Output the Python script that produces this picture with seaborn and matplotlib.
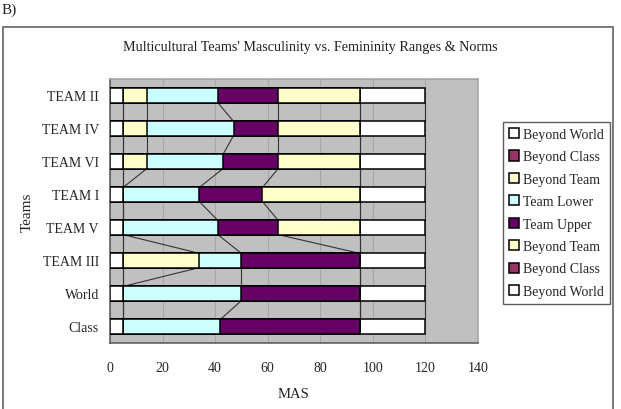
import numpy as np
import pandas as pd
import matplotlib
matplotlib.use("Agg")
import matplotlib.pyplot as plt
from matplotlib.patches import Rectangle
import seaborn as sns

# data, top bar first
teams = ["TEAM II", "TEAM IV", "TEAM VI", "TEAM I", "TEAM V", "TEAM III", "World", "Class"]
beyond_world_lo = [5, 5, 5, 5, 5, 5, 5, 5]
beyond_class_lo = [0, 0, 0, 0, 0, 0, 0, 0]
beyond_team_lo = [9, 9, 9, 0, 0, 29, 0, 0]
team_lower = [27, 33, 29, 29, 36, 16, 45, 37]
team_upper = [23, 17, 21, 24, 23, 45, 45, 53]
beyond_team_hi = [31, 31, 31, 37, 31, 0, 0, 0]
beyond_class_hi = [0, 0, 0, 0, 0, 0, 0, 0]
beyond_world_hi = [25, 25, 25, 25, 25, 25, 25, 25]

series_names = ["Beyond World", "Beyond Class", "Beyond Team", "Team Lower",
                "Team Upper", "Beyond Team", "Beyond Class", "Beyond World"]
series_vals = [beyond_world_lo, beyond_class_lo, beyond_team_lo, team_lower,
               team_upper, beyond_team_hi, beyond_class_hi, beyond_world_hi]
series_colors = ["#FFFFFF", "#993366", "#FFFFCC", "#CCFFFF",
                 "#660066", "#FFFFCC", "#993366", "#FFFFFF"]

cum = np.cumsum(np.array(series_vals), axis=0)  # shape (8 series, 8 teams)

sns.set_style("white")
plt.rcParams["font.family"] = ["Liberation Serif", "DejaVu Serif"]

fig = plt.figure(figsize=(6.21, 4.10), dpi=100)
ax = fig.add_axes([110 / 621, 1 - 344 / 410, 368 / 621, 264 / 410])
ax.set_facecolor("#C0C0C0")

bar_h = 0.43
handles = {}
# overlay cumulative totals, largest first, to get the stacked look
for k in range(len(series_names) - 1, -1, -1):
    df = pd.DataFrame({"team": teams, "value": cum[k]})
    sns.barplot(data=df, x="value", y="team", orient="h", order=teams,
                color=series_colors[k], width=bar_h, edgecolor="black",
                linewidth=1.1, saturation=1, ax=ax, zorder=3)
    handles[k] = Rectangle((0, 0), 1, 1, facecolor=series_colors[k],
                           edgecolor="black", linewidth=1.1)

# series lines between bars
for i in range(len(teams) - 1):
    for k in range(len(series_names)):
        ax.plot([cum[k, i], cum[k, i + 1]], [i + bar_h / 2, i + 1 - bar_h / 2],
                color="#333333", lw=0.8, zorder=2)

ax.set_xlim(0, 140)
ax.set_ylim(len(teams) - 0.5, -0.5)
ax.set_xticks(range(0, 141, 20))
ax.xaxis.grid(True, color="#A6A6A6", lw=0.8, zorder=0)
ax.set_axisbelow(True)
ax.set_yticks(np.arange(-0.5, len(teams), 1.0), minor=True)
ax.tick_params(axis="y", which="major", length=0, pad=8, labelsize=10)
ax.tick_params(axis="y", which="minor", length=5, direction="in", color="#444444")
ax.tick_params(axis="x", length=5, direction="in", pad=13, labelsize=10, color="#444444")
for s in ["left", "bottom"]:
    ax.spines[s].set_color("#555555")
    ax.spines[s].set_linewidth(1.1)
for s in ["top", "right"]:
    ax.spines[s].set_color("#A0A0A0")
    ax.spines[s].set_linewidth(1.1)

ax.set_ylabel("Teams", fontsize=11, labelpad=6)
ax.set_xlabel("MAS", fontsize=10.5, labelpad=9)

fig.text(0.5, 1 - 48 / 410, "Multicultural Teams' Masculinity vs. Femininity Ranges & Norms",
         ha="center", va="center", fontsize=10.2, color="#222222")
fig.text(0.002, 1 - 10 / 410, "B)", ha="left", va="center", fontsize=11)

# outer chart border
fig.patches.append(Rectangle((3 / 621, -0.05), 610 / 621, 1 - 28 / 410 + 0.05,
                             transform=fig.transFigure, fill=False,
                             edgecolor="#707070", lw=1.3))

ax.legend([handles[k] for k in range(len(series_names))], series_names,
          loc="upper left", bbox_to_anchor=(503 / 621, 1 - 123 / 410),
          bbox_transform=fig.transFigure, frameon=True, fancybox=False,
          edgecolor="#333333", fontsize=10, handlelength=0.75, handleheight=0.75,
          handletextpad=0.3, labelspacing=0.68, borderpad=0.42, borderaxespad=0)

fig.savefig("out.png", dpi=100)
